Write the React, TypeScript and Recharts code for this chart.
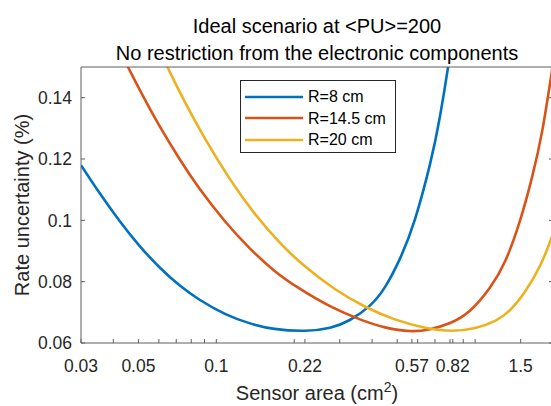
import { LineChart, Line, XAxis, YAxis, Legend } from "recharts";

// values (sensor area in cm^2, rate uncertainty in %)
const areaR8 = [0.03, 0.0354, 0.0423, 0.0505, 0.0603, 0.0721, 0.0862, 0.108, 0.135, 0.168, 0.22, 0.275, 0.328, 0.392, 0.449, 0.513, 0.586, 0.67, 0.732, 0.8, 0.86];
const rateR8 = [0.118, 0.1089, 0.0998, 0.0917, 0.0847, 0.0788, 0.0741, 0.0695, 0.0664, 0.0646, 0.064, 0.065, 0.0675, 0.0722, 0.0783, 0.0876, 0.1004, 0.1184, 0.134, 0.1543, 0.1745];

const areaR145 = [0.0415, 0.0455, 0.0528, 0.0603, 0.0721, 0.0862, 0.108, 0.135, 0.168, 0.21, 0.275, 0.359, 0.449, 0.56, 0.67, 0.8, 0.957, 1.14, 1.31, 1.49, 1.66, 1.82, 2.0];
const rateR145 = [0.1569, 0.1501, 0.1396, 0.1308, 0.12, 0.1103, 0.0997, 0.0908, 0.0835, 0.0777, 0.072, 0.0677, 0.0651, 0.0639, 0.0645, 0.0665, 0.0706, 0.078, 0.0869, 0.0998, 0.1141, 0.1295, 0.1509];

const areaR20 = [0.0552, 0.0647, 0.0754, 0.0901, 0.1126, 0.1407, 0.176, 0.22, 0.287, 0.375, 0.49, 0.641, 0.815, 1.0, 1.2, 1.37, 1.56, 1.79, 2.0];
const rateR20 = [0.1625, 0.15, 0.1388, 0.1269, 0.1136, 0.1022, 0.0927, 0.085, 0.0776, 0.0719, 0.0677, 0.065, 0.064, 0.0649, 0.0673, 0.0709, 0.0768, 0.0855, 0.0955];

const seriesNames = ["R=8 cm", "R=14.5 cm", "R=20 cm"];
const areaTickLabels = [0.03, 0.05, 0.1, 0.22, 0.57, 0.82, 1.5];
const areaMinorTicks = [0.04, 0.06, 0.07, 0.08, 0.09, 0.2, 0.3, 0.4, 0.5, 0.6, 0.7, 0.8, 0.9, 1, 2];
const rateTicks = [0.06, 0.08, 0.1, 0.12, 0.14];

const COLORS = ["#0072BD", "#D95319", "#EDB120"];
const FONT = "'Liberation Sans', Arial, Helvetica, sans-serif";
const AXIS = "#5e5e5e";
const TEXT = "#262626";
const TICK = 4;

const toPoints = (xs: number[], ys: number[]) => xs.map((area, i) => ({ area, rate: ys[i] }));

const series = [
  { name: seriesNames[0], data: toPoints(areaR8, rateR8), color: COLORS[0] },
  { name: seriesNames[1], data: toPoints(areaR145, rateR145), color: COLORS[1] },
  { name: seriesNames[2], data: toPoints(areaR20, rateR20), color: COLORS[2] },
];

const allAreaTicks = [...areaTickLabels, ...areaMinorTicks].sort((a, b) => a - b);

// MATLAB style: ticks point into the plot
const renderBottomTick = (props: any) => {
  const { x, y, payload } = props;
  const showLabel = areaTickLabels.includes(payload.value);
  return (
    <g>
      <line x1={x} y1={y} x2={x} y2={y - TICK} stroke={AXIS} />
      {showLabel && (
        <text x={x} y={y + 29} textAnchor="middle" fill={TEXT} fontSize={17.5} fontFamily={FONT}>
          {payload.value}
        </text>
      )}
    </g>
  );
};

const renderTopTick = (props: any) => {
  const { x, y } = props;
  return <line x1={x} y1={y} x2={x} y2={y + TICK} stroke={AXIS} />;
};

const renderLeftTick = (props: any) => {
  const { x, y, payload } = props;
  return (
    <g>
      <line x1={x} y1={y} x2={x + TICK} y2={y} stroke={AXIS} />
      <text x={x - 9} y={y} dy="0.36em" textAnchor="end" fill={TEXT} fontSize={17.5} fontFamily={FONT}>
        {payload.value}
      </text>
    </g>
  );
};

const renderRightTick = (props: any) => {
  const { x, y } = props;
  return <line x1={x} y1={y} x2={x - TICK} y2={y} stroke={AXIS} />;
};

const renderAreaLabel = (props: any) => {
  const { viewBox } = props;
  const cx = viewBox.x + viewBox.width / 2;
  const baseline = viewBox.y + viewBox.height - 6;
  return (
    <text x={cx} y={baseline} textAnchor="middle" fill={TEXT} fontSize={20} fontFamily={FONT}>
      Sensor area (cm
      <tspan dy={-8} fontSize={14}>2</tspan>
      <tspan dy={8}>)</tspan>
    </text>
  );
};

const LegendBox = ({ payload }: any) => {
  const items = [...(payload || [])].sort(
    (a: any, b: any) => seriesNames.indexOf(a.value) - seriesNames.indexOf(b.value)
  );
  return (
    <div
      style={{
        width: 156,
        height: 73,
        boxSizing: "border-box",
        border: `1px solid ${TEXT}`,
        background: "#fff",
        paddingTop: 5,
      }}
    >
      {items.map((entry: any) => (
        <div key={entry.value} style={{ display: "flex", alignItems: "center", height: 21.5 }}>
          <svg width={66} height={6} style={{ display: "block" }}>
            <line x1={4} y1={3} x2={62} y2={3} stroke={entry.color} strokeWidth={2.6} />
          </svg>
          <span style={{ marginLeft: 1, fontSize: 16, fontFamily: FONT, color: "#000", lineHeight: "21.5px" }}>
            {entry.value}
          </span>
        </div>
      ))}
    </div>
  );
};

export default function App() {
  return (
    <div
      style={{
        position: "absolute",
        left: 0,
        top: 0,
        width: 551,
        height: 406,
        overflow: "hidden",
        background: "#fff",
      }}
    >
      <div
        style={{
          position: "absolute",
          left: 0,
          top: 12.5,
          width: 634,
          textAlign: "center",
          fontFamily: FONT,
          fontSize: 20,
          lineHeight: "27.5px",
          color: "#000",
          zIndex: 2,
        }}
      >
        <div>Ideal scenario at &lt;PU&gt;=200</div>
        <div>No restriction from the electronic components</div>
      </div>
      <LineChart width={561} height={406} margin={{ top: 66, right: 7, bottom: 0, left: 0 }}>
        <XAxis
          xAxisId="x"
          dataKey="area"
          type="number"
          scale="log"
          domain={[0.03, 2]}
          allowDataOverflow
          ticks={allAreaTicks}
          interval={0}
          tickSize={0}
          tickMargin={0}
          tickLine={false}
          tick={renderBottomTick}
          axisLine={{ stroke: AXIS }}
          height={63}
          label={{ content: renderAreaLabel }}
        />
        <XAxis
          xAxisId="top"
          orientation="top"
          type="number"
          scale="log"
          domain={[0.03, 2]}
          allowDataOverflow
          ticks={allAreaTicks}
          interval={0}
          tickSize={0}
          tickMargin={0}
          tickLine={false}
          tick={renderTopTick}
          axisLine={{ stroke: AXIS }}
          height={1}
        />
        <YAxis
          yAxisId="y"
          type="number"
          domain={[0.06, 0.15]}
          allowDataOverflow
          ticks={rateTicks}
          interval={0}
          tickSize={0}
          tickMargin={0}
          tickLine={false}
          tick={renderLeftTick}
          axisLine={{ stroke: AXIS }}
          width={81}
          label={{
            value: "Rate uncertainty (%)",
            angle: -90,
            position: "insideLeft",
            offset: 22,
            fill: TEXT,
            fontSize: 20,
            fontFamily: FONT,
            style: { textAnchor: "middle" },
          }}
        />
        <YAxis
          yAxisId="right"
          orientation="right"
          type="number"
          domain={[0.06, 0.15]}
          allowDataOverflow
          ticks={rateTicks}
          interval={0}
          tickSize={0}
          tickMargin={0}
          tickLine={false}
          tick={renderRightTick}
          axisLine={{ stroke: AXIS }}
          width={1}
        />
        {series.map((s) => (
          <Line
            key={s.name}
            name={s.name}
            data={s.data}
            dataKey="rate"
            xAxisId="x"
            yAxisId="y"
            type="natural"
            stroke={s.color}
            strokeWidth={2.6}
            dot={false}
            activeDot={false}
            isAnimationActive={false}
          />
        ))}
        <Legend
          layout="vertical"
          align="center"
          verticalAlign="middle"
          content={<LegendBox />}
          wrapperStyle={{ left: 240, top: 80, width: 156, height: 73 }}
        />
      </LineChart>
    </div>
  );
}
